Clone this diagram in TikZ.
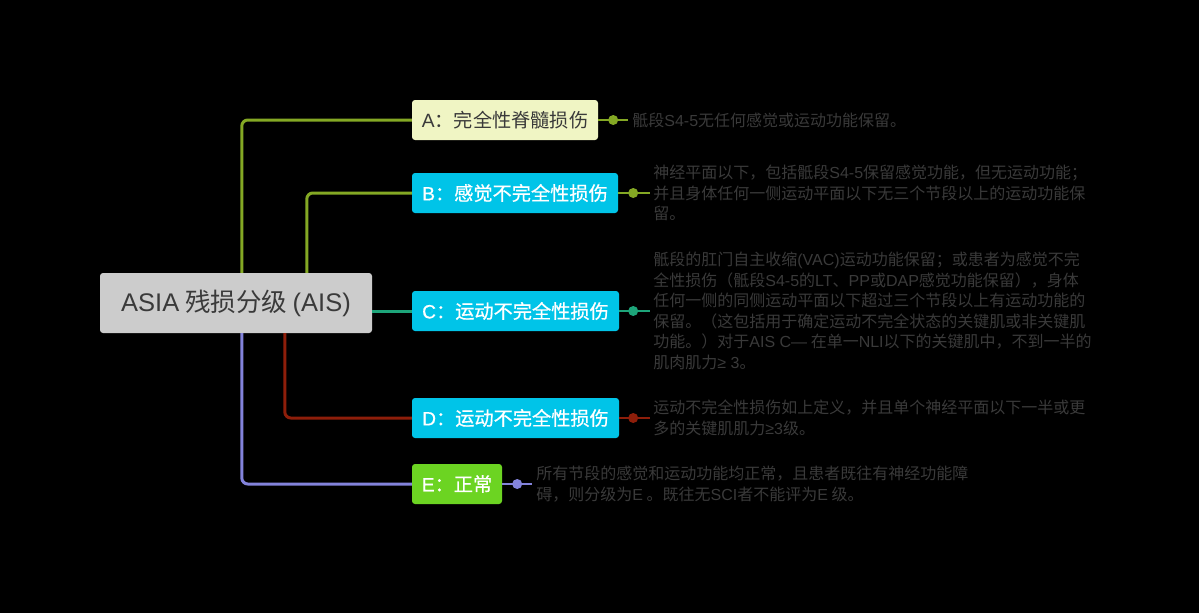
\documentclass[tikz,border=0pt]{standalone}
\usepackage{fontspec}
\setmainfont{Noto Sans CJK SC}
\newfontfamily\latf{Liberation Sans}
\newfontfamily\labf{Noto Sans CJK SC}[FakeBold=0.7]
\newfontfamily\lablf{Liberation Sans}[FakeBold=0.7]
\newcommand{\la}[1]{{\latf #1}}
\newcommand{\lb}[1]{{\lablf #1}}
\usetikzlibrary{positioning}
\definecolor{bgc}{HTML}{000000}
\definecolor{rootfill}{HTML}{CCCCCC}
\definecolor{darktext}{HTML}{3A3A3A}
\definecolor{afill}{HTML}{F0F5C4}
\definecolor{cyanfill}{HTML}{00C4E8}
\definecolor{efill}{HTML}{6CD422}
\definecolor{olive}{HTML}{84A824}
\definecolor{teal2}{HTML}{1DA57A}
\definecolor{darkred2}{HTML}{8E1E0A}
\definecolor{purple2}{HTML}{8383DB}
\definecolor{notetext}{HTML}{3A3A3A}
\tikzset{
  rootbox/.style={fill=rootfill, text=darktext, rounded corners=3pt, minimum width=272pt, minimum height=60pt, inner sep=0pt, font=\fontsize{25.5}{28}\selectfont},
  catbox/.style={rounded corners=3pt, minimum height=40pt, inner sep=0pt, font=\fontsize{19.2}{22}\selectfont},
  whitebox/.style={catbox, fill=cyanfill, text=white, font=\fontsize{19.2}{22}\selectfont\labf},
  conn/.style={line width=3pt, rounded corners=6pt},
  tick/.style={line width=2pt},
  dotc/.style={circle, inner sep=0pt, minimum size=10pt},
  note/.style={anchor=west, align=left, inner sep=0pt, text=notetext, font=\fontsize{16}{20.5}\selectfont}
}
\begin{document}
\begin{tikzpicture}[x=1pt,y=-1pt]
\fill[bgc] (0,0) rectangle (1199,613);
\useasboundingbox (0,0) rectangle (1199,613);

\node[rootbox] (root) at (236,303) {\la{ASIA} 残损分级 \la{(AIS)}};

\node[catbox, fill=afill, text=darktext, minimum width=186pt] (A) at (505,120) {\la{A}：完全性脊髓损伤};
\node[whitebox, minimum width=206pt] (B) at (515,193) {\lb{B}：感觉不完全性损伤};
\node[whitebox, minimum width=207pt] (C) at (515.5,311) {\lb{C}：运动不完全性损伤};
\node[whitebox, minimum width=207pt] (D) at (515.5,418) {\lb{D}：运动不完全性损伤};
\node[whitebox, fill=efill, minimum width=90pt] (E) at (457,484) {\lb{E}：正常};

% connectors from root
\draw[conn, olive] ([xshift=142pt]root.north west) |- (A.west);
\draw[conn, olive] ([xshift=207pt]root.north west) |- (B.west);
\draw[conn, teal2] (root.east |- C.west) -- (C.west);
\draw[conn, darkred2] ([xshift=185pt]root.south west) |- (D.west);
\draw[conn, purple2] ([xshift=142pt]root.south west) |- (E.west);

% ticks and dots
\coordinate (aend) at ([xshift=30pt]A.east);
\coordinate (bend) at ([xshift=32pt]B.east);
\coordinate (cend) at ([xshift=31pt]C.east);
\coordinate (dend) at ([xshift=31pt]D.east);
\coordinate (eend) at ([xshift=30pt]E.east);
\draw[tick, olive] (A.east) -- (aend);
\draw[tick, olive] (B.east) -- (bend);
\draw[tick, teal2] (C.east) -- (cend);
\draw[tick, darkred2] (D.east) -- (dend);
\draw[tick, purple2] (E.east) -- (eend);
\node[dotc, fill=olive] (adot) at ([xshift=15pt]A.east) {};
\node[dotc, fill=olive] (bdot) at ([xshift=15pt]B.east) {};
\node[dotc, fill=teal2] (cdot) at ([xshift=14pt]C.east) {};
\node[dotc, fill=darkred2] (ddot) at ([xshift=14pt]D.east) {};
\node[dotc, fill=purple2] (edot) at ([xshift=15pt]E.east) {};

% notes
\node[note] (an) at ([xshift=4pt]aend) {骶段\la{S4-5}无任何感觉或运动功能保留。};
\node[note] (bn) at ([xshift=3pt]bend) {神经平面以下，包括骶段\la{S4-5}保留感觉功能，但无运动功能；\\并且身体任何一侧运动平面以下无三个节段以上的运动功能保\\留。};
\node[note] (cn) at ([xshift=3pt]cend) {骶段的肛门自主收缩\la{(VAC)}运动功能保留；或患者为感觉不完\\全性损伤（骶段\la{S4-5}的\la{LT}、\la{PP}或\la{DAP}感觉功能保留），身体\\任何一侧的同侧运动平面以下超过三个节段以上有运动功能的\\保留。（这包括用于确定运动不完全状态的关键肌或非关键肌\\功能。）对于\la{AIS C—} 在单一\la{NLI}以下的关键肌中，不到一半的\\肌肉肌力\la{≥ 3}。};
\node[note] (dn) at ([xshift=3pt]dend) {运动不完全性损伤如上定义，并且单个神经平面以下一半或更\\多的关键肌肌力\la{≥3}级。};
\node[note] (en) at ([xshift=4pt]eend) {所有节段的感觉和运动功能均正常，且患者既往有神经功能障\\碍，则分级为\la{E} 。既往无\la{SCI}者不能评为\la{E} 级。};
\end{tikzpicture}
\end{document}
